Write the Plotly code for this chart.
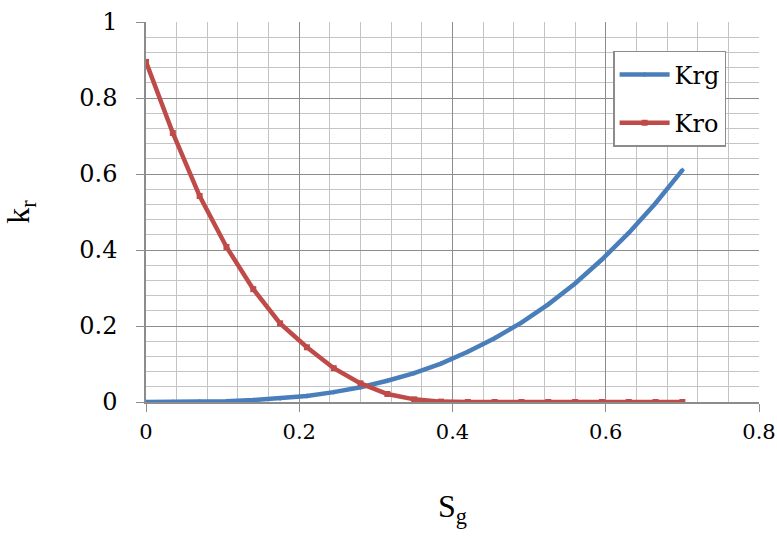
import plotly.graph_objects as go

# Gas saturation and relative permeabilities
sg = [0.0, 0.035, 0.07, 0.105, 0.14, 0.175, 0.21, 0.245, 0.28, 0.315, 0.35,
      0.385, 0.42, 0.455, 0.49, 0.525, 0.56, 0.595, 0.63, 0.665, 0.70]
krg = [0.0, 0.0001, 0.0006, 0.002, 0.005, 0.0095, 0.016, 0.026, 0.039, 0.056, 0.076,
       0.101, 0.132, 0.168, 0.209, 0.257, 0.312, 0.375, 0.445, 0.523, 0.61]
kro = [0.895, 0.708, 0.542, 0.408, 0.297, 0.207, 0.144, 0.089, 0.049, 0.021, 0.007,
       0.001, 0.0, 0.0, 0.0, 0.0, 0.0, 0.0, 0.0, 0.0, 0.0]
x_ticks = [0, 0.2, 0.4, 0.6, 0.8]
y_ticks = [0, 0.2, 0.4, 0.6, 0.8, 1]

LABEL_FONT = "DejaVu Serif"
TITLE_FONT = "Liberation Serif"

fig = go.Figure()
fig.add_trace(go.Scatter(
    x=sg, y=krg, name="Krg", mode="lines+markers", legendgroup="g",
    line=dict(color="#4A7EBB", width=4.5),
    marker=dict(symbol="diamond", size=4, color="#4A7EBB"),
))
fig.add_trace(go.Scatter(
    x=sg, y=kro, name="Kro", mode="lines+markers", legendgroup="o",
    line=dict(color="#BE4B48", width=4.5),
    marker=dict(symbol="square", size=6, color="#BE4B48"),
))

grid = dict(
    showgrid=True, gridcolor="#8C8C8C", gridwidth=1.2,
    minor=dict(dtick=0.04, showgrid=True, gridcolor="#C4C4C4", gridwidth=1.2),
    showline=True, linecolor="#8C8C8C", linewidth=1.5,
    ticks="outside", ticklen=8, tickcolor="#8C8C8C",
    zeroline=False, automargin=False, tickmode="array",
)

fig.update_layout(
    template="none",
    width=777, height=537,
    margin=dict(l=146, r=18, t=22, b=135, autoexpand=False),
    paper_bgcolor="white", plot_bgcolor="white",
    font=dict(family=LABEL_FONT, size=24, color="black"),
    xaxis=dict(
        range=[0, 0.8], tickvals=x_ticks, ticktext=["%g" % v for v in x_ticks],
        tickfont=dict(family=LABEL_FONT, size=21, color="black"),
        ticklabelstandoff=2,
        title=dict(text="S<sub>g</sub>", font=dict(family=TITLE_FONT, size=32, color="black"),
                   standoff=52),
        **grid,
    ),
    yaxis=dict(
        range=[0, 1], tickvals=y_ticks, ticktext=["%g" % v for v in y_ticks],
        tickfont=dict(family=LABEL_FONT, size=24, color="black"),
        ticklabelstandoff=14,
        title=dict(text="k<sub>r</sub>", font=dict(family=TITLE_FONT, size=32, color="black"),
                   standoff=42),
        **grid,
    ),
    legend=dict(
        x=0.762, y=0.924, xanchor="left", yanchor="top",
        bgcolor="white", bordercolor="#8C8C8C", borderwidth=1.5,
        font=dict(family=LABEL_FONT, size=24, color="black"),
        tracegroupgap=14, itemwidth=50,
    ),
)

fig.write_html("out.html")
